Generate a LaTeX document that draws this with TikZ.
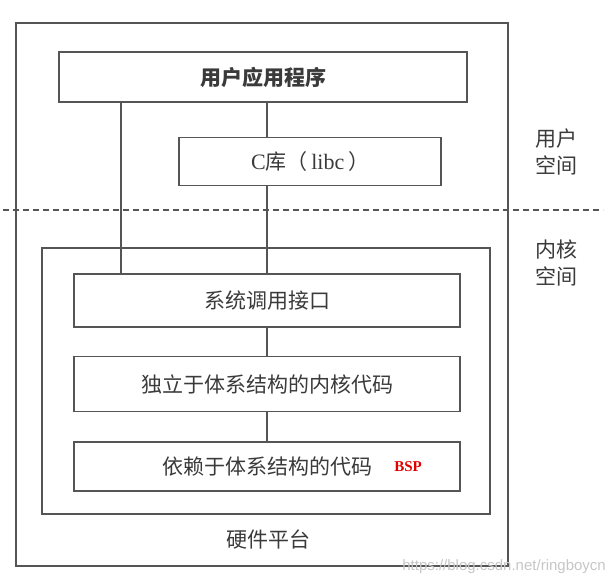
\documentclass[tikz,border=0pt]{standalone}
\usepackage{fontspec}
\setmainfont{Liberation Serif}
\newfontfamily\cjk{Noto Sans CJK SC}
\newfontfamily\wmfont{Liberation Sans}
\usetikzlibrary{positioning}
\definecolor{linegray}{HTML}{555555}
\definecolor{textgray}{HTML}{3A3A3A}
\definecolor{bspred}{HTML}{E00000}

\tikzset{
  frame/.style={draw=linegray, line width=1.6pt, inner sep=0pt},
  layer/.style={frame, minimum width=386pt, minimum height=54pt, text=textgray,
    font=\cjk\fontsize{21}{21}\selectfont},
  side/.style={text=textgray, align=center, inner sep=0pt,
    font=\cjk\fontsize{21}{27}\selectfont},
  link/.style={draw=linegray, line width=1.6pt},
  sep/.style={draw=linegray, line width=1.2pt, dash pattern=on 6pt off 4pt},
  bsp/.style={text=bspred, inner sep=0pt, font=\bfseries\fontsize{15}{15}\selectfont},
  wm/.style={text=gray!45, inner sep=0pt, font=\wmfont\fontsize{15}{15}\selectfont},
}

\begin{document}
\begin{tikzpicture}[x=1pt, y=-1pt]
     \useasboundingbox (0,0) rectangle (612,582);

     % hardware frame and kernel frame
     \node[frame, minimum width=492pt, minimum height=543pt] (hw) at (262,294.5) {};
     \node[frame, minimum width=448pt, minimum height=266pt] (kernel) at (266,381) {};

     % user space
     \node[layer, minimum width=408pt, minimum height=50pt, font=\cjk\bfseries\fontsize{21}{21}\selectfont] (app) at (263,77) {用户应用程序};
     \node[layer, minimum width=262pt, minimum height=48pt, font=\rmfamily\fontsize{22}{22}\selectfont] (libc) at (310,161.5) {C{\cjk\fontsize{21}{21}\selectfont 库（}\,libc\,{\cjk\fontsize{21}{21}\selectfont ）}};

     % kernel space
     \node[layer, minimum height=53pt] (syscall) at (267,300.5) {系统调用接口};
     \node[layer, minimum height=55pt, below=28pt of syscall] (indep) {独立于体系结构的内核代码};
     \node[layer, minimum height=49pt, below=29pt of indep] (dep) {依赖于体系结构的代码};
     \node[bsp] (bsp) at ([xshift=141pt]dep.center) {BSP};

     \node[side] (hwlabel) at (268,539) {硬件平台};
     \node[side] (userlabel) at (556,152) {用户\\空间};
     \node[side] (kernlabel) at (556,263) {内核\\空间};

     % user / kernel border
     \coordinate (sepL) at (3,210);
     \coordinate (sepR) at (603,210);
     \draw[sep] (sepL) -- (sepR);

     % calls
     \coordinate (direct) at (121,0);
     \draw[link] (app.south -| direct) -- (syscall.north -| direct);
     \draw[link] (app.south -| syscall.north) -- (libc.north -| syscall.north);
     \draw[link] (libc.south -| syscall.north) -- (syscall.north);
     \draw[link] (syscall) -- (indep);
     \draw[link] (indep) -- (dep);

     \node[wm, anchor=east] (wm) at (606,567) {https://blog.csdn.net/ringboycn};
\end{tikzpicture}
\end{document}
